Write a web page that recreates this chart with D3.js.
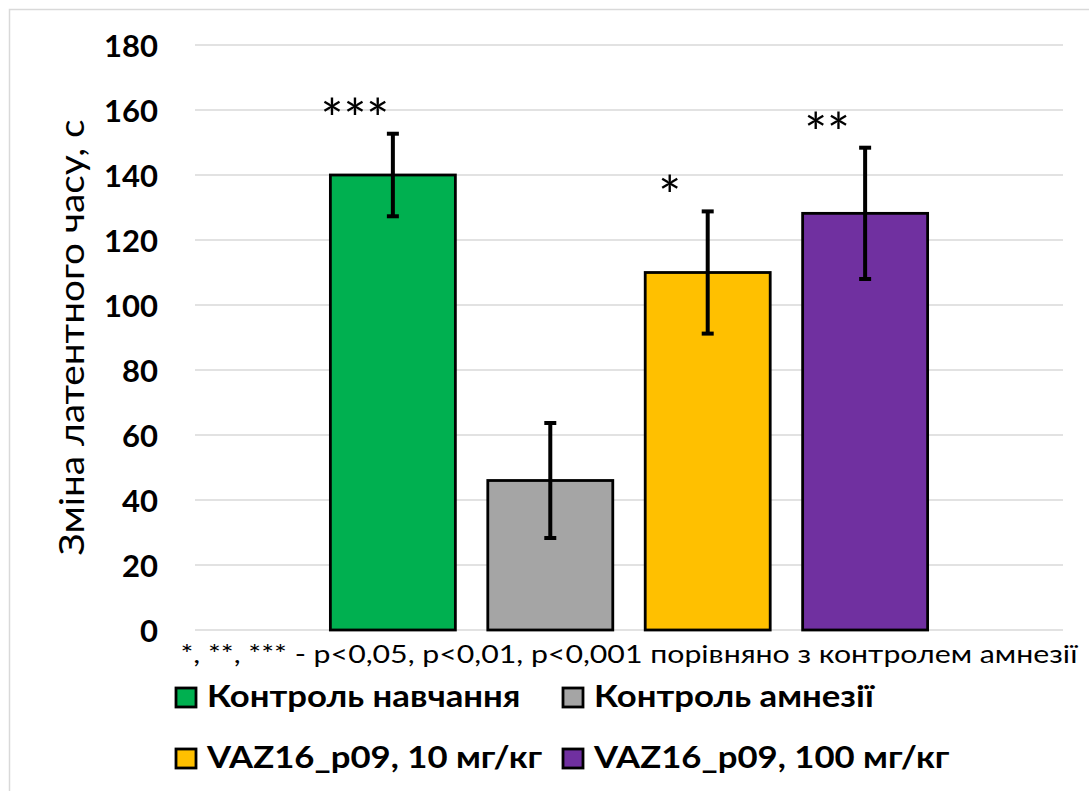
<!DOCTYPE html>
<html>
<head>
<meta charset="utf-8">
<script src="https://cdn.jsdelivr.net/npm/d3@7/dist/d3.min.js"></script>
<style>
  html, body { margin: 0; padding: 0; background: #fff; }
  svg { display: block; }
  text { font-family: Lato, "Open Sans", sans-serif; fill: #000; }
</style>
</head>
<body>
<svg id="chart" width="1089" height="791"></svg>
<script>
// ---- data ----
const categories = ["Контроль навчання", "Контроль амнезії", "VAZ16_p09, 10 мг/кг", "VAZ16_p09, 100 мг/кг"];
const means = [140, 46, 110, 128.2];
const errors = [12.7, 17.7, 18.8, 20.2];
const significance = ["***", "", "*", "**"];
const yTicks = [0, 20, 40, 60, 80, 100, 120, 140, 160, 180];
const yTitle = "Зміна латентного часу, с";
const footnote = "*, **, *** - p<0,05, p<0,01, p<0,001 порівняно з контролем амнезії";

// ---- styles ----
const palette = ["#00b050", "#a5a5a5", "#ffc000", "#7030a0"];

const svg = d3.select("#chart");
const W = 1089, H = 791;
const plot = { left: 195, right: 1063, top: 45, bottom: 630 };

// chart border
svg.append("rect")
  .attr("x", 9.5).attr("y", 9.5)
  .attr("width", W + 20).attr("height", H + 20)
  .attr("fill", "none").attr("stroke", "#d9d9d9").attr("stroke-width", 1.5);

const x = d3.scaleBand().domain(categories)
  .range([plot.left, plot.right])
  .paddingInner(0.206).paddingOuter(0.86);
const y = d3.scaleLinear().domain([0, 180]).range([plot.bottom, plot.top]);
const color = d3.scaleOrdinal().domain(categories).range(palette);

// gridlines
svg.append("g").selectAll("line").data(yTicks).join("line")
  .attr("x1", plot.left).attr("x2", plot.right)
  .attr("y1", d => y(d)).attr("y2", d => y(d))
  .attr("stroke", "#d9d9d9").attr("stroke-width", 1.5);

// y axis labels
const yAxis = d3.axisLeft(y).tickValues(yTicks).tickSize(0).tickPadding(0).tickFormat(d3.format("d"));
const gy = svg.append("g").attr("transform", `translate(158,0)`).call(yAxis);
gy.select(".domain").remove();
gy.selectAll("text")
  .attr("font-family", "Lato, 'Open Sans', sans-serif")
  .attr("font-size", 31).attr("font-weight", "bold").attr("fill", "#000")
  .attr("dy", "0.36em");

// y title
svg.append("text")
  .attr("transform", `translate(84,${(plot.top + plot.bottom) / 2}) rotate(-90)`)
  .attr("text-anchor", "middle")
  .attr("font-size", 35)
  .attr("textLength", 436).attr("lengthAdjust", "spacingAndGlyphs")
  .text(yTitle);

const rows = categories.map((c, i) => ({ c, m: means[i], e: errors[i], s: significance[i] }));

// bars
svg.append("g").selectAll("rect").data(rows).join("rect")
  .attr("x", d => x(d.c)).attr("width", x.bandwidth())
  .attr("y", d => y(d.m)).attr("height", d => y(0) - y(d.m))
  .attr("fill", d => color(d.c))
  .attr("stroke", "#000").attr("stroke-width", 2.8);

// error bars
const eg = svg.append("g").attr("stroke", "#000").attr("stroke-width", 4);
const cx = d => x(d.c) + x.bandwidth() / 2;
eg.selectAll(".ev").data(rows).join("line").attr("class", "ev")
  .attr("x1", cx).attr("x2", cx)
  .attr("y1", d => y(d.m + d.e)).attr("y2", d => y(d.m - d.e));
eg.selectAll(".ct").data(rows).join("line").attr("class", "ct")
  .attr("x1", d => cx(d) - 6).attr("x2", d => cx(d) + 6)
  .attr("y1", d => y(d.m + d.e)).attr("y2", d => y(d.m + d.e));
eg.selectAll(".cb").data(rows).join("line").attr("class", "cb")
  .attr("x1", d => cx(d) - 6).attr("x2", d => cx(d) + 6)
  .attr("y1", d => y(d.m - d.e)).attr("y2", d => y(d.m - d.e));

// significance stars
svg.append("g").selectAll("text").data(rows.filter(d => d.s)).join("text")
  .attr("x", d => cx(d) - 38)
  .attr("y", d => y(d.m + d.e) + 4)
  .attr("text-anchor", "middle")
  .attr("font-size", 54)
  .text(d => d.s);

// footnote
svg.append("text")
  .attr("x", (plot.left + plot.right) / 2).attr("y", 663)
  .attr("text-anchor", "middle")
  .attr("font-size", 25)
  .attr("textLength", 897).attr("lengthAdjust", "spacingAndGlyphs")
  .text(footnote);

// legend
const legPos = [[176, 707], [563, 707], [176, 768], [563, 768]];
const lg = svg.append("g").selectAll("g").data(rows).join("g")
  .attr("transform", (d, i) => `translate(${legPos[i][0]},${legPos[i][1]})`);
lg.append("rect")
  .attr("x", 0).attr("y", -19).attr("width", 20).attr("height", 19)
  .attr("fill", d => color(d.c)).attr("stroke", "#000").attr("stroke-width", 2.8);
lg.append("text")
  .attr("transform", "translate(31,0) scale(1.12,1)")
  .attr("font-size", 31).attr("font-weight", "bold")
  .text(d => d.c);
</script>
</body>
</html>
